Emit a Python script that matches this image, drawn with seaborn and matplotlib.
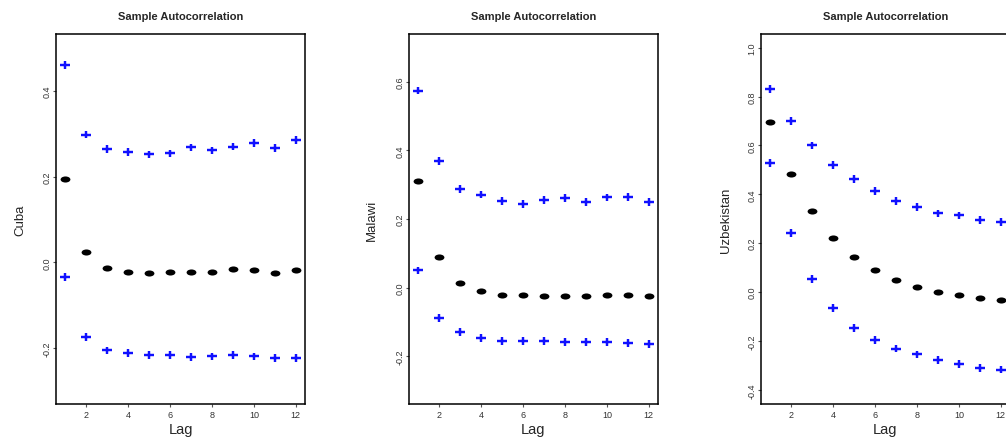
import numpy as np
import pandas as pd
import matplotlib
matplotlib.use("Agg")
import matplotlib.pyplot as plt
from matplotlib.path import Path
from matplotlib.transforms import Affine2D
import seaborn as sns

lags = list(range(1, 13))

# Sample autocorrelation and its confidence bounds, per country
cuba_acf = [0.195, 0.023, -0.014, -0.023, -0.026, -0.023, -0.022, -0.022, -0.016, -0.019, -0.025, -0.019]
cuba_upper = [0.461, 0.298, 0.264, 0.258, 0.252, 0.254, 0.268, 0.261, 0.270, 0.279, 0.267, 0.286]
cuba_lower = [-0.035, -0.174, -0.206, -0.212, -0.216, -0.216, -0.222, -0.220, -0.216, -0.220, -0.223, -0.223]

malawi_acf = [0.311, 0.088, 0.014, -0.010, -0.020, -0.022, -0.023, -0.023, -0.023, -0.021, -0.022, -0.023]
malawi_upper = [0.574, 0.369, 0.287, 0.271, 0.253, 0.244, 0.255, 0.261, 0.250, 0.263, 0.264, 0.250]
malawi_lower = [0.050, -0.089, -0.130, -0.146, -0.156, -0.156, -0.156, -0.159, -0.159, -0.159, -0.162, -0.164]

uzb_acf = [0.696, 0.483, 0.330, 0.222, 0.145, 0.090, 0.050, 0.022, 0.001, -0.014, -0.025, -0.033]
uzb_upper = [0.831, 0.701, 0.600, 0.521, 0.464, 0.413, 0.372, 0.347, 0.322, 0.314, 0.296, 0.288]
uzb_lower = [0.528, 0.243, 0.053, -0.065, -0.146, -0.196, -0.231, -0.255, -0.278, -0.295, -0.310, -0.317]

countries = ["Cuba", "Malawi", "Uzbekistan"]
y_ticks = [[-0.2, 0.0, 0.2, 0.4],
           [-0.2, 0.0, 0.2, 0.4, 0.6],
           [-0.4, -0.2, 0.0, 0.2, 0.4, 0.6, 0.8, 1.0]]
y_limits = [(-0.331, 0.533), (-0.339, 0.739), (-0.458, 1.056)]
x_ticks = [2, 4, 6, 8, 10, 12]

series = {
    "Cuba": (cuba_acf, cuba_upper, cuba_lower),
    "Malawi": (malawi_acf, malawi_upper, malawi_lower),
    "Uzbekistan": (uzb_acf, uzb_upper, uzb_lower),
}

sns.set_theme(style="ticks")
plt.rcParams["font.family"] = ["Liberation Sans", "DejaVu Sans"]

# markers: a flattened disc for the ACF and a slightly squat plus for the bounds
dot_marker = Path.unit_circle().transformed(Affine2D().scale(1.0, 0.62))
plus_marker = Path([[-1, 0], [1, 0], [0, -0.78], [0, 0.78]],
                   [Path.MOVETO, Path.LINETO, Path.MOVETO, Path.LINETO])

W, H = 1006, 439
fig = plt.figure(figsize=(W / 100, H / 100), dpi=100)

lefts = [56, 409, 761]
ax_w, ax_top, ax_bot = 249, 35, 405
ylabel_pads = [11, 12.5, 11]

for i, country in enumerate(countries):
    acf, upper, lower = series[country]
    df = pd.DataFrame({"Lag": lags, "acf": acf, "upper": upper, "lower": lower})
    ax = fig.add_axes([lefts[i] / W, (H - ax_bot) / H, ax_w / W, (ax_bot - ax_top) / H])

    for col in ("upper", "lower"):
        sns.scatterplot(data=df, x="Lag", y=col, ax=ax, marker=plus_marker,
                        s=50, linewidth=1.75, edgecolor="#1010ff", facecolor="none",
                        color="#1010ff", legend=False, zorder=3)
    sns.scatterplot(data=df, x="Lag", y="acf", ax=ax, marker=dot_marker,
                    s=50, color="black", edgecolor="black", linewidth=0,
                    legend=False, zorder=4)

    ax.set_xlim(0.56, 12.44)
    ax.set_ylim(*y_limits[i])
    ax.set_xticks(x_ticks)
    ax.set_yticks(y_ticks[i])
    ax.set_xticklabels([str(t) for t in x_ticks], fontsize=6.5, color="#333333")
    ax.set_yticklabels([f"{t:.1f}" for t in y_ticks[i]], fontsize=6.5,
                       color="#333333", rotation=90, va="center")
    ax.tick_params(axis="x", length=2, width=0.8, pad=2.5, color="#555555")
    ax.tick_params(axis="y", length=2, width=0.8, pad=1.5, color="#555555")
    for sp in ax.spines.values():
        sp.set_visible(True)
        sp.set_linewidth(1.1)
        sp.set_color("black")

    ax.set_title("Sample Autocorrelation", fontsize=8, fontweight="bold", pad=11)
    ax.set_xlabel("Lag", fontsize=10.5, labelpad=2)
    ax.set_ylabel(country, fontsize=9.5, labelpad=ylabel_pads[i])

fig.savefig("out.png", dpi=100, facecolor="white")
